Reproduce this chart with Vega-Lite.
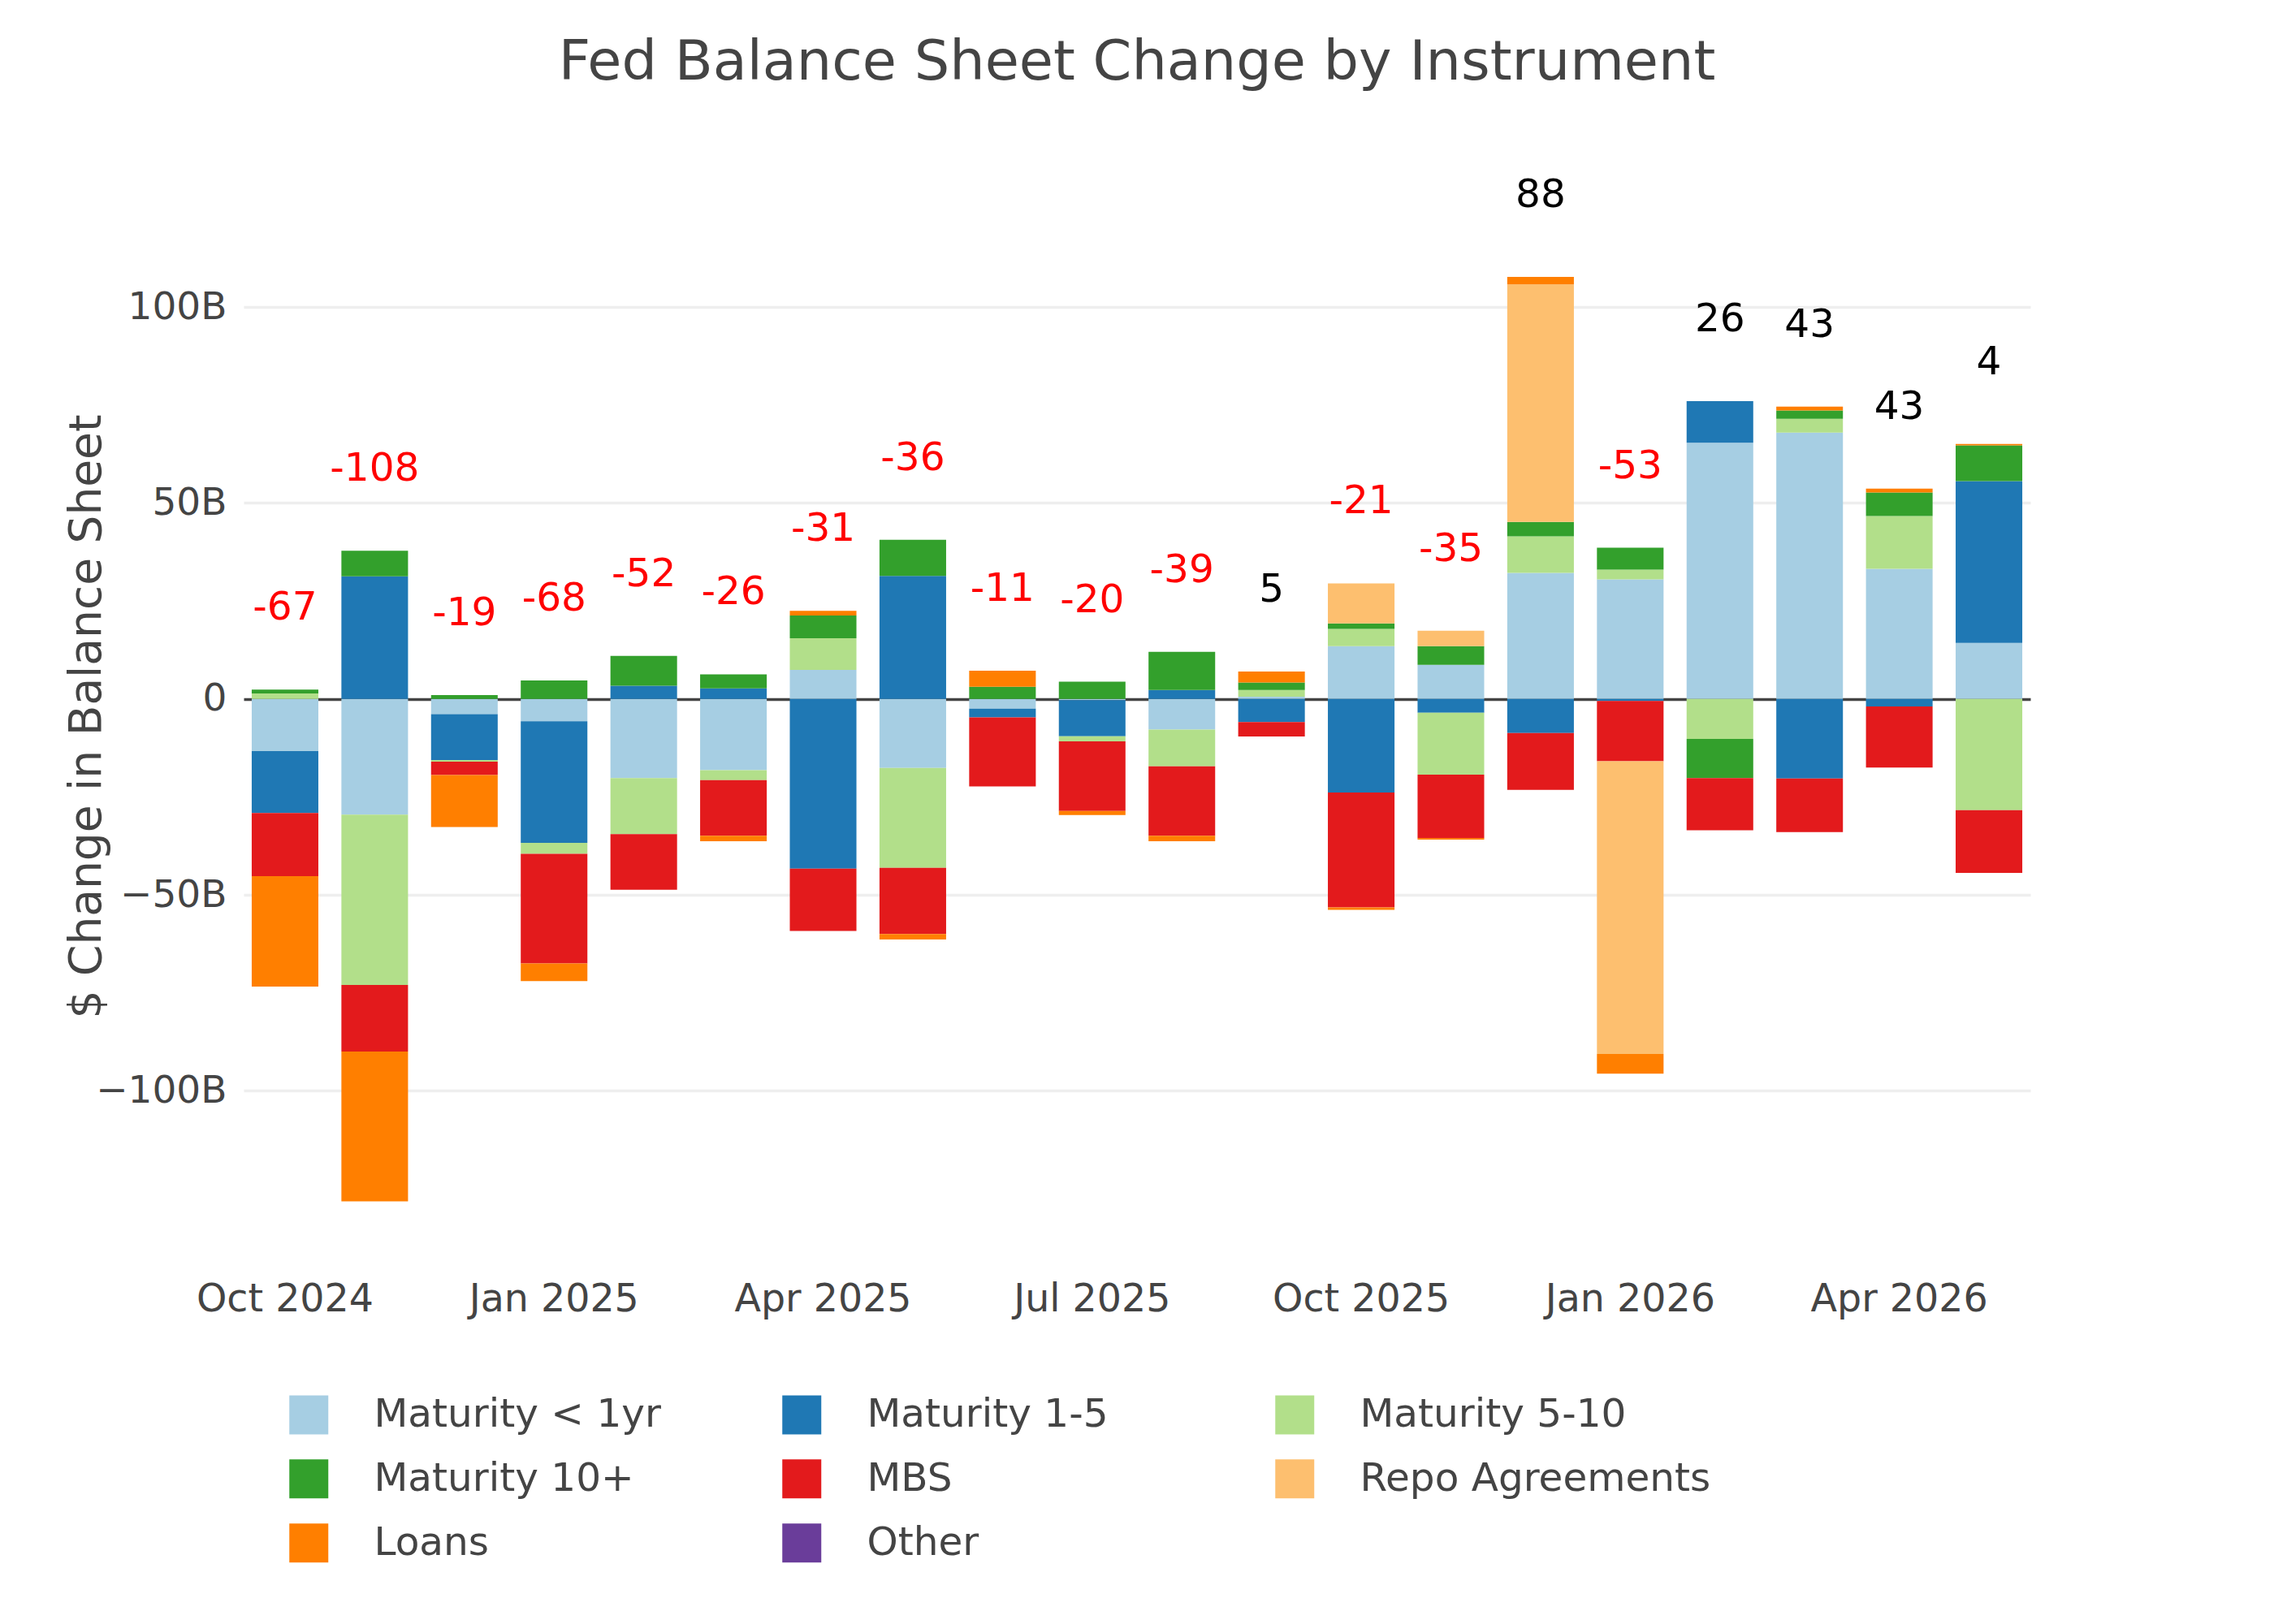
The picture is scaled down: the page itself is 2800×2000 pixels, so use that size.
{
  "$schema": "https://vega.github.io/schema/vega-lite/v6.json",
  "description": "Monthly change in the Fed balance sheet, stacked by instrument, with the net change written above each bar.",
  "autosize": {"type": "none"},
  "width": 2200,
  "height": 1385,
  "padding": {"left": 300, "top": 190, "right": 300, "bottom": 425},
  "background": "white",
  "title": {
    "text": "Fed Balance Sheet Change by Instrument",
    "fontSize": 68.5,
    "fontWeight": "normal",
    "color": "#444",
    "anchor": "middle",
    "frame": "group",
    "baseline": "bottom",
    "offset": 10
  },
  "config": {"view": {"stroke": null}, "font": "DejaVu Sans"},
  "datasets": {
    "flows": [
      {"month": "2024-10", "instrument": "Maturity < 1yr", "value": -13.3},
      {"month": "2024-10", "instrument": "Maturity 1-5", "value": -15.8},
      {"month": "2024-10", "instrument": "Maturity 5-10", "value": 1.4},
      {"month": "2024-10", "instrument": "Maturity 10+", "value": 1.0},
      {"month": "2024-10", "instrument": "MBS", "value": -16.1},
      {"month": "2024-10", "instrument": "Loans", "value": -28.2},
      {"month": "2024-11", "instrument": "Maturity < 1yr", "value": -29.5},
      {"month": "2024-11", "instrument": "Maturity 1-5", "value": 31.3},
      {"month": "2024-11", "instrument": "Maturity 5-10", "value": -43.5},
      {"month": "2024-11", "instrument": "Maturity 10+", "value": 6.5},
      {"month": "2024-11", "instrument": "MBS", "value": -17.0},
      {"month": "2024-11", "instrument": "Loans", "value": -38.2},
      {"month": "2024-12", "instrument": "Maturity < 1yr", "value": -3.9},
      {"month": "2024-12", "instrument": "Maturity 1-5", "value": -11.7},
      {"month": "2024-12", "instrument": "Maturity 5-10", "value": -0.4},
      {"month": "2024-12", "instrument": "Maturity 10+", "value": 1.0},
      {"month": "2024-12", "instrument": "MBS", "value": -3.4},
      {"month": "2024-12", "instrument": "Loans", "value": -13.3},
      {"month": "2025-01", "instrument": "Maturity < 1yr", "value": -5.7},
      {"month": "2025-01", "instrument": "Maturity 1-5", "value": -31.0},
      {"month": "2025-01", "instrument": "Maturity 5-10", "value": -2.8},
      {"month": "2025-01", "instrument": "Maturity 10+", "value": 4.7},
      {"month": "2025-01", "instrument": "MBS", "value": -28.0},
      {"month": "2025-01", "instrument": "Loans", "value": -4.5},
      {"month": "2025-02", "instrument": "Maturity < 1yr", "value": -20.2},
      {"month": "2025-02", "instrument": "Maturity 1-5", "value": 3.4},
      {"month": "2025-02", "instrument": "Maturity 5-10", "value": -14.3},
      {"month": "2025-02", "instrument": "Maturity 10+", "value": 7.6},
      {"month": "2025-02", "instrument": "MBS", "value": -14.2},
      {"month": "2025-03", "instrument": "Maturity < 1yr", "value": -18.2},
      {"month": "2025-03", "instrument": "Maturity 1-5", "value": 2.7},
      {"month": "2025-03", "instrument": "Maturity 5-10", "value": -2.5},
      {"month": "2025-03", "instrument": "Maturity 10+", "value": 3.6},
      {"month": "2025-03", "instrument": "MBS", "value": -14.2},
      {"month": "2025-03", "instrument": "Loans", "value": -1.4},
      {"month": "2025-04", "instrument": "Maturity < 1yr", "value": 7.4},
      {"month": "2025-04", "instrument": "Maturity 1-5", "value": -43.3},
      {"month": "2025-04", "instrument": "Maturity 5-10", "value": 8.1},
      {"month": "2025-04", "instrument": "Maturity 10+", "value": 5.8},
      {"month": "2025-04", "instrument": "MBS", "value": -15.9},
      {"month": "2025-04", "instrument": "Loans", "value": 1.2},
      {"month": "2025-05", "instrument": "Maturity < 1yr", "value": -17.6},
      {"month": "2025-05", "instrument": "Maturity 1-5", "value": 31.4},
      {"month": "2025-05", "instrument": "Maturity 5-10", "value": -25.5},
      {"month": "2025-05", "instrument": "Maturity 10+", "value": 9.2},
      {"month": "2025-05", "instrument": "MBS", "value": -16.9},
      {"month": "2025-05", "instrument": "Loans", "value": -1.4},
      {"month": "2025-06", "instrument": "Maturity < 1yr", "value": -2.5},
      {"month": "2025-06", "instrument": "Maturity 1-5", "value": -2.2},
      {"month": "2025-06", "instrument": "Maturity 10+", "value": 3.1},
      {"month": "2025-06", "instrument": "MBS", "value": -17.6},
      {"month": "2025-06", "instrument": "Loans", "value": 4.1},
      {"month": "2025-07", "instrument": "Maturity < 1yr", "value": -0.3},
      {"month": "2025-07", "instrument": "Maturity 1-5", "value": -9.2},
      {"month": "2025-07", "instrument": "Maturity 5-10", "value": -1.3},
      {"month": "2025-07", "instrument": "Maturity 10+", "value": 4.4},
      {"month": "2025-07", "instrument": "MBS", "value": -17.8},
      {"month": "2025-07", "instrument": "Loans", "value": -1.0},
      {"month": "2025-08", "instrument": "Maturity < 1yr", "value": -7.8},
      {"month": "2025-08", "instrument": "Maturity 1-5", "value": 2.3},
      {"month": "2025-08", "instrument": "Maturity 5-10", "value": -9.4},
      {"month": "2025-08", "instrument": "Maturity 10+", "value": 9.7},
      {"month": "2025-08", "instrument": "MBS", "value": -17.7},
      {"month": "2025-08", "instrument": "Loans", "value": -1.4},
      {"month": "2025-09", "instrument": "Maturity < 1yr", "value": 0.6},
      {"month": "2025-09", "instrument": "Maturity 1-5", "value": -5.9},
      {"month": "2025-09", "instrument": "Maturity 5-10", "value": 1.7},
      {"month": "2025-09", "instrument": "Maturity 10+", "value": 1.9},
      {"month": "2025-09", "instrument": "MBS", "value": -3.7},
      {"month": "2025-09", "instrument": "Loans", "value": 2.8},
      {"month": "2025-10", "instrument": "Maturity < 1yr", "value": 13.5},
      {"month": "2025-10", "instrument": "Maturity 1-5", "value": -23.9},
      {"month": "2025-10", "instrument": "Maturity 5-10", "value": 4.4},
      {"month": "2025-10", "instrument": "Maturity 10+", "value": 1.4},
      {"month": "2025-10", "instrument": "MBS", "value": -29.3},
      {"month": "2025-10", "instrument": "Repo Agreements", "value": 10.2},
      {"month": "2025-10", "instrument": "Loans", "value": -0.6},
      {"month": "2025-11", "instrument": "Maturity < 1yr", "value": 8.7},
      {"month": "2025-11", "instrument": "Maturity 1-5", "value": -3.5},
      {"month": "2025-11", "instrument": "Maturity 5-10", "value": -15.8},
      {"month": "2025-11", "instrument": "Maturity 10+", "value": 4.8},
      {"month": "2025-11", "instrument": "MBS", "value": -16.2},
      {"month": "2025-11", "instrument": "Repo Agreements", "value": 3.9},
      {"month": "2025-11", "instrument": "Loans", "value": -0.4},
      {"month": "2025-12", "instrument": "Maturity < 1yr", "value": 32.2},
      {"month": "2025-12", "instrument": "Maturity 1-5", "value": -8.7},
      {"month": "2025-12", "instrument": "Maturity 5-10", "value": 9.3},
      {"month": "2025-12", "instrument": "Maturity 10+", "value": 3.7},
      {"month": "2025-12", "instrument": "MBS", "value": -14.5},
      {"month": "2025-12", "instrument": "Repo Agreements", "value": 60.6},
      {"month": "2025-12", "instrument": "Loans", "value": 1.9},
      {"month": "2026-01", "instrument": "Maturity < 1yr", "value": 30.5},
      {"month": "2026-01", "instrument": "Maturity 1-5", "value": -0.5},
      {"month": "2026-01", "instrument": "Maturity 5-10", "value": 2.5},
      {"month": "2026-01", "instrument": "Maturity 10+", "value": 5.6},
      {"month": "2026-01", "instrument": "MBS", "value": -15.4},
      {"month": "2026-01", "instrument": "Repo Agreements", "value": -74.7},
      {"month": "2026-01", "instrument": "Loans", "value": -5.0},
      {"month": "2026-02", "instrument": "Maturity < 1yr", "value": 65.4},
      {"month": "2026-02", "instrument": "Maturity 1-5", "value": 10.6},
      {"month": "2026-02", "instrument": "Maturity 5-10", "value": -10.2},
      {"month": "2026-02", "instrument": "Maturity 10+", "value": -10.0},
      {"month": "2026-02", "instrument": "MBS", "value": -13.3},
      {"month": "2026-03", "instrument": "Maturity < 1yr", "value": 68.0},
      {"month": "2026-03", "instrument": "Maturity 1-5", "value": -20.3},
      {"month": "2026-03", "instrument": "Maturity 5-10", "value": 3.5},
      {"month": "2026-03", "instrument": "Maturity 10+", "value": 2.1},
      {"month": "2026-03", "instrument": "MBS", "value": -13.7},
      {"month": "2026-03", "instrument": "Loans", "value": 1.0},
      {"month": "2026-04", "instrument": "Maturity < 1yr", "value": 33.2},
      {"month": "2026-04", "instrument": "Maturity 1-5", "value": -1.9},
      {"month": "2026-04", "instrument": "Maturity 5-10", "value": 13.5},
      {"month": "2026-04", "instrument": "Maturity 10+", "value": 6.0},
      {"month": "2026-04", "instrument": "MBS", "value": -15.6},
      {"month": "2026-04", "instrument": "Loans", "value": 1.0},
      {"month": "2026-05", "instrument": "Maturity < 1yr", "value": 14.3},
      {"month": "2026-05", "instrument": "Maturity 1-5", "value": 41.3},
      {"month": "2026-05", "instrument": "Maturity 5-10", "value": -28.4},
      {"month": "2026-05", "instrument": "Maturity 10+", "value": 9.1},
      {"month": "2026-05", "instrument": "MBS", "value": -16.0},
      {"month": "2026-05", "instrument": "Loans", "value": 0.4}
    ],
    "totals": [
      {"month": "2024-10", "net": -67},
      {"month": "2024-11", "net": -108},
      {"month": "2024-12", "net": -19},
      {"month": "2025-01", "net": -68},
      {"month": "2025-02", "net": -52},
      {"month": "2025-03", "net": -26},
      {"month": "2025-04", "net": -31},
      {"month": "2025-05", "net": -36},
      {"month": "2025-06", "net": -11},
      {"month": "2025-07", "net": -20},
      {"month": "2025-08", "net": -39},
      {"month": "2025-09", "net": 5},
      {"month": "2025-10", "net": -21},
      {"month": "2025-11", "net": -35},
      {"month": "2025-12", "net": 88},
      {"month": "2026-01", "net": -53},
      {"month": "2026-02", "net": 26},
      {"month": "2026-03", "net": 43},
      {"month": "2026-04", "net": 43},
      {"month": "2026-05", "net": 4}
    ]
  },
  "data": {"name": "flows"},
  "encoding": {
    "x": {
      "field": "month",
      "type": "ordinal",
      "title": null,
      "scale": {"paddingInner": 0.257, "paddingOuter": 0.09},
      "axis": {
        "labelExpr": "indexof(['01', '04', '07', '10'], slice(datum.value, 5)) >= 0 ? utcFormat(toDate(datum.value + '-01'), '%b %Y') : ''",
        "labelAngle": 0,
        "labelFontSize": 47.5,
        "labelColor": "#444",
        "labelPadding": 1,
        "labelLimit": 1000,
        "labelOverlap": false,
        "labelBound": false,
        "domain": false,
        "ticks": false,
        "grid": false
      }
    }
  },
  "layer": [
    {
      "transform": [
        {"calculate": "indexof(['Maturity < 1yr', 'Maturity 1-5', 'Maturity 5-10', 'Maturity 10+', 'MBS', 'Repo Agreements', 'Loans', 'Other'], datum.instrument)", "as": "rank"}
      ],
      "mark": {"type": "bar"},
      "encoding": {
        "y": {
          "field": "value",
          "type": "quantitative",
          "stack": "zero",
          "title": "$ Change in Balance Sheet",
          "scale": {"domain": [-148, 139], "nice": false, "zero": false},
          "axis": {
            "values": [-100, -50, 0, 50, 100],
            "labelExpr": "datum.value == 0 ? '0' : (datum.value < 0 ? '−' + abs(datum.value) + 'B' : datum.value + 'B')",
            "labelFontSize": 47,
            "labelColor": "#444",
            "labelPadding": 21,
            "domain": false,
            "ticks": false,
            "grid": true,
            "gridColor": {"condition": {"test": "datum.value === 0", "value": "#444444"}, "value": "#eeeeee"},
            "gridWidth": 3.5,
            "titleFontSize": 55,
            "titleFontWeight": "normal",
            "titleColor": "#444",
            "titleAngle": -90,
            "titleX": -194,
            "titleY": 692,
            "titleAlign": "center",
            "titleBaseline": "middle"
          }
        },
        "color": {
          "field": "instrument",
          "type": "nominal",
          "scale": {
            "domain": ["Maturity < 1yr", "Maturity 1-5", "Maturity 5-10", "Maturity 10+", "MBS", "Repo Agreements", "Loans", "Other"],
            "range": ["#a6cee3", "#1f78b4", "#b2df8a", "#33a02c", "#e31a1c", "#fdbf6f", "#ff7f00", "#6a3d9a"]
          },
          "legend": {
            "title": null,
            "orient": "none",
            "legendX": 56,
            "legendY": 1528,
            "direction": "horizontal",
            "columns": 3,
            "gridAlign": "all",
            "columnPadding": 70,
            "rowPadding": 30,
            "padding": 0,
            "symbolType": "square",
            "symbolSize": 2304,
            "symbolStrokeWidth": 0,
            "labelFontSize": 48.5,
            "labelColor": "#444",
            "labelOffset": 56,
            "labelLimit": 1000
          }
        },
        "order": {"field": "rank", "type": "quantitative", "sort": "ascending"}
      }
    },
    {
      "transform": [
        {"filter": "datum.value > 0"},
        {"aggregate": [{"op": "sum", "field": "value", "as": "pos"}], "groupby": ["month"]},
        {"lookup": "month", "from": {"data": {"name": "totals"}, "key": "month", "fields": ["net"]}}
      ],
      "mark": {"type": "text", "fontSize": 48.5, "baseline": "middle", "dy": -101},
      "encoding": {
        "y": {"field": "pos", "type": "quantitative", "title": "$ Change in Balance Sheet"},
        "text": {"field": "net", "type": "nominal"},
        "color": {"condition": {"test": "datum.net < 0", "value": "#ff0000"}, "value": "#000000"}
      }
    }
  ]
}
